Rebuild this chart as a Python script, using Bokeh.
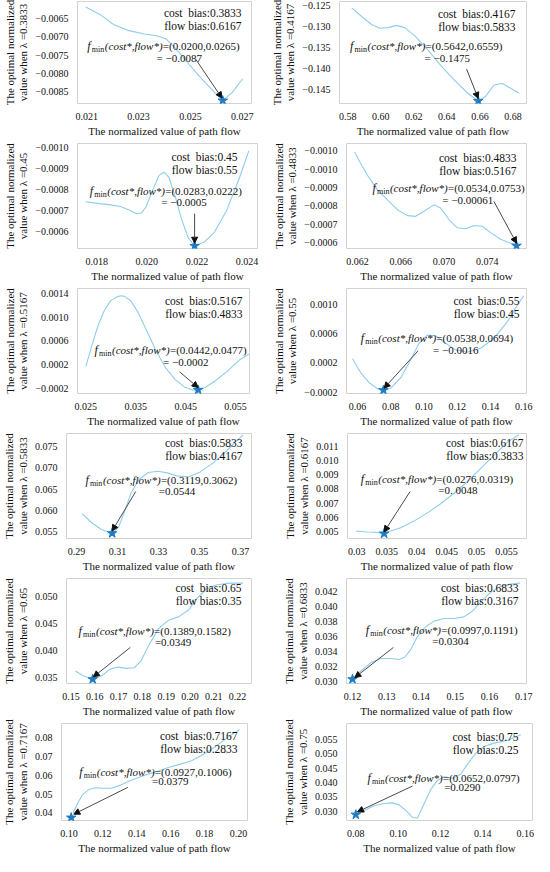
from bokeh.plotting import figure
from bokeh.layouts import row, column
from bokeh.models import Range1d, FixedTicker, Arrow, NormalHead
from bokeh.core.properties import value
from bokeh.embed import file_html
from bokeh.resources import INLINE

# ---------------- data ----------------
LAMBDA = ["0.3833", "0.4167", "0.45", "0.4833", "0.5167", "0.55",
          "0.5833", "0.6167", "0.65", "0.6833", "0.7167", "0.75"]
COST_BIAS = ["0.3833", "0.4167", "0.45", "0.4833", "0.5167", "0.55",
             "0.5833", "0.6167", "0.65", "0.6833", "0.7167", "0.75"]
FLOW_BIAS = ["0.6167", "0.5833", "0.55", "0.5167", "0.4833", "0.45",
             "0.4167", "0.3833", "0.35", "0.3167", "0.2833", "0.25"]
OPT_POINT = ["(0.0200,0.0265)", "(0.5642,0.6559)", "(0.0283,0.0222)", "(0.0534,0.0753)",
             "(0.0442,0.0477)", "(0.0538,0.0694)", "(0.3119,0.3062)", "(0.0276,0.0319)",
             "(0.1389,0.1582)", "(0.0997,0.1191)", "(0.0927,0.1006)", "(0.0652,0.0797)"]
OPT_VALUE = ["= \u22120.0087", "= \u22120.1475", "= \u22120.0005", "= \u22120.00061",
             "= \u22120.0002", "= \u22120.0016", "=0.0544", "=0. 0048",
             "=0.0349", "=0.0304", "=0.0379", "=0.0290"]

X1 = [0.02096, 0.02156, 0.02203, 0.02263, 0.02322, 0.02369, 0.02405, 0.02453, 0.02500, 0.02548, 0.02595, 0.02625, 0.02660, 0.02702]
Y1 = [-0.00618, -0.00641, -0.00666, -0.00683, -0.00692, -0.00697, -0.00705, -0.00740, -0.00780, -0.00819, -0.00854, -0.00875, -0.00854, -0.00815]
X2 = [0.58240, 0.58842, 0.59443, 0.59944, 0.60445, 0.60946, 0.61447, 0.62048, 0.62850, 0.63652, 0.64454, 0.65255, 0.65896, 0.66357, 0.66858, 0.67359, 0.67860, 0.68361]
Y2 = [-0.12550, -0.12757, -0.12948, -0.13039, -0.13023, -0.12970, -0.13023, -0.13214, -0.13557, -0.13939, -0.14282, -0.14588, -0.14778, -0.14664, -0.14397, -0.14359, -0.14473, -0.14588]
X3 = [0.017548, 0.018039, 0.018555, 0.018942, 0.019329, 0.019587, 0.019780, 0.019974, 0.020232, 0.020490, 0.020683, 0.020877, 0.021135, 0.021393, 0.021651, 0.021909, 0.022296, 0.022683, 0.023199, 0.023715, 0.024077]
Y3 = [-0.000743, -0.000735, -0.000728, -0.000720, -0.000701, -0.000686, -0.000689, -0.000720, -0.000798, -0.000868, -0.000883, -0.000860, -0.000767, -0.000658, -0.000572, -0.000533, -0.000552, -0.000595, -0.000704, -0.000860, -0.000984]
X4 = [0.061754, 0.062308, 0.062923, 0.063846, 0.064769, 0.065692, 0.066615, 0.067385, 0.068154, 0.069077, 0.069692, 0.070462, 0.071231, 0.072000, 0.072769, 0.073538, 0.074308, 0.075231, 0.076154, 0.076769]
Y4 = [-0.000993, -0.000943, -0.000893, -0.000829, -0.000786, -0.000743, -0.000717, -0.000714, -0.000736, -0.000764, -0.000750, -0.000700, -0.000664, -0.000660, -0.000674, -0.000671, -0.000643, -0.000614, -0.000597, -0.000589]
X5 = [0.025000, 0.026237, 0.027474, 0.028711, 0.029948, 0.031495, 0.032114, 0.032732, 0.033969, 0.035433, 0.037289, 0.039144, 0.041000, 0.042856, 0.044711, 0.046567, 0.047495, 0.049041, 0.050897, 0.053371, 0.055845, 0.057662]
Y5 = [0.000172, 0.000531, 0.000862, 0.001110, 0.001276, 0.001348, 0.001359, 0.001348, 0.001276, 0.001083, 0.000752, 0.000421, 0.000145, -0.000048, -0.000175, -0.000230, -0.000230, -0.000175, -0.000076, 0.000090, 0.000283, 0.000377]
X6 = [0.057, 0.062, 0.067, 0.072, 0.0756, 0.080, 0.086, 0.092, 0.097, 0.102, 0.107, 0.113, 0.119, 0.126, 0.134, 0.142, 0.150, 0.156, 0.160]
Y6 = [0.000258, 0.000065, -0.000070, -0.000151, -0.000173, -0.000146, -0.000002, 0.000245, 0.000470, 0.000582, 0.000573, 0.000470, 0.000380, 0.000348, 0.000402, 0.000537, 0.000762, 0.000987, 0.001121]
X7 = [0.29276, 0.29737, 0.30198, 0.30735, 0.31042, 0.31349, 0.31656, 0.32040, 0.32501, 0.32962, 0.33423, 0.33960, 0.34497, 0.35035, 0.35572, 0.36186, 0.36724, 0.37138]
Y7 = [0.059225, 0.057054, 0.055504, 0.054574, 0.055891, 0.059767, 0.064031, 0.067287, 0.068915, 0.069225, 0.068837, 0.068062, 0.067907, 0.069070, 0.070853, 0.073333, 0.076047, 0.077829]
X8 = [0.029833, 0.031778, 0.034000, 0.035111, 0.037333, 0.039556, 0.041778, 0.044000, 0.046222, 0.048444, 0.050667, 0.052889, 0.055111, 0.057056]
Y8 = [0.005010, 0.004940, 0.004893, 0.004940, 0.005243, 0.005711, 0.006295, 0.006949, 0.007696, 0.008514, 0.009448, 0.010383, 0.011317, 0.011854]
X9 = [0.15179, 0.15524, 0.15931, 0.16282, 0.16626, 0.16971, 0.17315, 0.17660, 0.17935, 0.18280, 0.18693, 0.19106, 0.19520, 0.19933, 0.20278, 0.20691, 0.21104, 0.21518, 0.21931, 0.22235]
Y9 = [0.036190, 0.035283, 0.034678, 0.035283, 0.036492, 0.036916, 0.036674, 0.036795, 0.038004, 0.041028, 0.044052, 0.045564, 0.046169, 0.047378, 0.049495, 0.051310, 0.052036, 0.052338, 0.052399, 0.052399]
X10 = [0.12029, 0.12243, 0.12534, 0.12825, 0.13117, 0.13359, 0.13524, 0.13699, 0.13893, 0.14136, 0.14379, 0.14670, 0.14961, 0.15252, 0.15495, 0.15738, 0.16029, 0.16320, 0.16612, 0.16884]
Y10 = [0.030530, 0.031405, 0.032499, 0.033068, 0.033068, 0.032937, 0.033243, 0.034250, 0.036000, 0.037313, 0.038057, 0.038407, 0.038407, 0.038626, 0.039370, 0.040595, 0.041908, 0.042695, 0.043002, 0.043133]
X11 = [0.10248, 0.10515, 0.10802, 0.11183, 0.11565, 0.12042, 0.12519, 0.12996, 0.13569, 0.14141, 0.14714, 0.15286, 0.15859, 0.16527, 0.17195, 0.17767, 0.18340, 0.18912, 0.19485, 0.20057]
Y11 = [0.040000, 0.045077, 0.049692, 0.052462, 0.053385, 0.053077, 0.053077, 0.054615, 0.056923, 0.058923, 0.060769, 0.062308, 0.064154, 0.065846, 0.067692, 0.070308, 0.073385, 0.077231, 0.081077, 0.084308]
X12 = [0.080787, 0.083937, 0.088661, 0.093386, 0.097323, 0.10047, 0.10362, 0.10677, 0.10913, 0.11228, 0.11543, 0.11858, 0.12173, 0.12567, 0.12961, 0.13276, 0.13669, 0.14063, 0.14535, 0.15165, 0.15795]
Y12 = [0.029316, 0.030293, 0.031953, 0.032734, 0.032930, 0.032246, 0.030293, 0.027852, 0.027656, 0.032734, 0.037617, 0.040742, 0.042000, 0.041523, 0.042989, 0.046406, 0.050313, 0.052559, 0.053731, 0.054707, 0.056660]

MIN_FLOW = [0.02625, 0.65896, 0.021909, 0.076708, 0.047495, 0.0756, 0.30735, 0.034556, 0.15909, 0.12000, 0.10134, 0.08000]
MIN_VALUE = [-0.00875, -0.14778, -0.000533, -0.000586, -0.000225, -0.000173, 0.054574, 0.004823, 0.034678, 0.030311, 0.037385, 0.028828]

XT1 = ["0.021", "0.023", "0.025", "0.027"]
YT1 = ["\u22120.0065", "\u22120.0070", "\u22120.0075", "\u22120.0080", "\u22120.0085"]
XT2 = ["0.58", "0.60", "0.62", "0.64", "0.66", "0.68"]
YT2 = ["\u22120.125", "\u22120.130", "\u22120.135", "\u22120.140", "\u22120.145"]
XT3 = ["0.018", "0.020", "0.022", "0.024"]
YT3 = ["\u22120.0010", "\u22120.0009", "\u22120.0008", "\u22120.0007", "\u22120.0006"]
XT4 = ["0.062", "0.066", "0.070", "0.074"]
YT4 = ["\u22120.0010", "\u22120.0010", "\u22120.0009", "\u22120.0008", "\u22120.0007", "\u22120.0006"]
YT4_AT = [-0.00100, -0.00092, -0.00084, -0.00076, -0.00068, -0.00060]
XT5 = ["0.025", "0.035", "0.045", "0.055"]
YT5 = ["0.0014", "0.0010", "0.0006", "0.0002", "\u22120.0002"]
XT6 = ["0.06", "0.08", "0.10", "0.12", "0.14", "0.16"]
YT6 = ["0.0010", "0.0006", "0.0002", "\u22120.0002"]
XT7 = ["0.29", "0.31", "0.33", "0.35", "0.37"]
YT7 = ["0.055", "0.060", "0.065", "0.070", "0.075"]
XT8 = ["0.03", "0.035", "0.04", "0.045", "0.05", "0.055"]
YT8 = ["0.005", "0.006", "0.007", "0.008", "0.009", "0.010", "0.011"]
XT9 = ["0.15", "0.16", "0.17", "0.18", "0.19", "0.20", "0.21", "0.22"]
YT9 = ["0.035", "0.040", "0.045", "0.050"]
XT10 = ["0.12", "0.13", "0.14", "0.15", "0.16", "0.17"]
YT10 = ["0.030", "0.032", "0.034", "0.036", "0.038", "0.040", "0.042"]
XT11 = ["0.10", "0.12", "0.14", "0.16", "0.18", "0.20"]
YT11 = ["0.04", "0.05", "0.06", "0.07", "0.08"]
XT12 = ["0.08", "0.10", "0.12", "0.14", "0.16"]
YT12 = ["0.030", "0.035", "0.040", "0.045", "0.050", "0.055"]

# ---------------- layout (positions / sizes / styles) ----------------
FONT = "Liberation Serif"
LINE_COLOR = "#8fcdea"
STAR_COLOR = "#1f7cc4"
TXT = "#111111"

X_RANGE = [(0.02064, 0.02736), (0.57499, 0.68822), (0.017226, 0.024424), (0.060985, 0.077631),
           (0.023330, 0.057786), (0.0534, 0.1616), (0.285086, 0.375374), (0.028444, 0.058333),
           (0.14807, 0.22593), (0.11825, 0.17078), (0.095611, 0.20534), (0.075591, 0.16346)]
# (bottom, top) -- panels 3 and 4 use a reversed axis
Y_RANGE = [(-0.00883, -0.00603), (-0.14839, -0.12398), (-0.000521, -0.001019), (-0.000574, -0.001031),
           (-0.0002855, 0.00148), (-0.000218, 0.00122), (0.053333, 0.078140), (0.004473, 0.011948),
           (0.033892, 0.053245), (0.029742, 0.043746), (0.035846, 0.087693), (0.0268, 0.060567)]
# text baselines in data coordinates
TEXT1_AT = [(0.02102, -0.00736), (0.58140, -0.13557), (0.017716, -0.000779), (0.063385, -0.000821),
            (0.026732, 0.000377), (0.062, 0.000492), (0.29430, 0.066357), (0.030667, 0.008444),
            (0.15317, 0.042843), (0.12388, 0.036438), (0.10611, 0.06), (0.085512, 0.040352)]
TEXT2_AT = [(0.02369, -0.00769), (0.62649, -0.13847), (0.020580, -0.000723), (0.069846, -0.000771),
            (0.040464, 0.000189), (0.1054, 0.000335), (0.33008, 0.063798), (0.043611, 0.007696),
            (0.18528, 0.040907), (0.14330, 0.034994), (0.14905, 0.054923), (0.12173, 0.037129)]
ARROW_FROM = [(0.02521, -0.00762), (0.65194, -0.14015), (0.021909, -0.000686), (0.074615, -0.000779),
              (0.043782, 0.0000786), (0.0964, 0.000366), (0.31887, 0.064419), (0.038889, 0.007813),
              (0.17494, 0.040544), (0.13194, 0.034556), (0.13473, 0.053538), (0.10677, 0.038789)]
ARROW_TO = [(0.02622, -0.00868), (0.65896, -0.14717), (0.021909, -0.000546), (0.076708, -0.000597),
            (0.047495, -0.000186), (0.076, -0.000146), (0.30735, 0.055116), (0.034556, 0.004940),
            (0.15937, 0.035101), (0.12068, 0.030530), (0.10286, 0.039231), (0.080787, 0.029805)]
# (distance of text right edge from frame right, centre of first line below frame top)
BIAS_OFF = [(10, 11), (11, 12), (20, 13), (10, 14), (7, 12), (7, 12),
            (9, 9), (3, 9), (10, 9), (8, 9), (10, 12), (14, 13)]
LEFT_BORDER = [63, 71, 71, 79, 63, 79, 55, 80, 63, 79, 55, 79]
RIGHT_BORDER = [16, 8, 10, 8, 18, 8, 16, 8, 16, 8, 20, 2]
ROW_H = [139, 145, 145, 145, 145, 137]
ROW_TOP = [1, 4, 4, 4, 4, 4]
ROW_BOTTOM = [34, 34, 34, 34, 34, 30]
BIAS_SIZE = "11.5px"
MID = -3.6   # shift from baseline to middle of the text, px (negative = up)

XS = [X1, X2, X3, X4, X5, X6, X7, X8, X9, X10, X11, X12]
YS = [Y1, Y2, Y3, Y4, Y5, Y6, Y7, Y8, Y9, Y10, Y11, Y12]
XTL = [XT1, XT2, XT3, XT4, XT5, XT6, XT7, XT8, XT9, XT10, XT11, XT12]
YTL = [YT1, YT2, YT3, YT4, YT5, YT6, YT7, YT8, YT9, YT10, YT11, YT12]


def num(s):
    return float(s.replace("\u2212", "-"))


def make_panel(i):
    r = i // 2
    p = figure(width=267, height=ROW_H[r],
               x_range=Range1d(*X_RANGE[i]), y_range=Range1d(*Y_RANGE[i]),
               output_backend="svg", toolbar_location=None,
               min_border_left=LEFT_BORDER[i], min_border_right=RIGHT_BORDER[i],
               min_border_top=ROW_TOP[r], min_border_bottom=ROW_BOTTOM[r])
    p.background_fill_color = "white"
    p.border_fill_color = "white"
    p.outline_line_color = "#d2d2d2"
    p.xgrid.visible = False
    p.ygrid.visible = False

    p.line(XS[i], YS[i], line_color=LINE_COLOR, line_width=1.1)
    p.scatter([MIN_FLOW[i]], [MIN_VALUE[i]], marker="star", size=10,
              fill_color=STAR_COLOR, line_color=STAR_COLOR)
    p.add_layout(Arrow(end=NormalHead(size=6, fill_color="#111111", line_color="#111111"),
                       x_start=ARROW_FROM[i][0], y_start=ARROW_FROM[i][1],
                       x_end=ARROW_TO[i][0], y_end=ARROW_TO[i][1],
                       line_color="#4a4a4a", line_width=1))

    # ticks
    xt = [num(s) for s in XTL[i]]
    yt = YT4_AT if i == 3 else [num(s) for s in YTL[i]]
    p.xaxis.ticker = FixedTicker(ticks=xt)
    p.yaxis.ticker = FixedTicker(ticks=yt)
    p.xaxis.major_label_overrides = {v: s for v, s in zip(xt, XTL[i])}
    p.yaxis.major_label_overrides = {v: s for v, s in zip(yt, YTL[i])}
    for ax in (p.xaxis[0], p.yaxis[0]):
        ax.axis_line_color = None
        ax.major_tick_line_color = None
        ax.minor_tick_line_color = None
        ax.major_label_text_font = FONT
        ax.major_label_text_font_size = "10px"
        ax.major_label_text_color = TXT
        ax.major_label_standoff = 3
        ax.axis_label_text_font = FONT
        ax.axis_label_text_font_size = "11px"
        ax.axis_label_text_font_style = "normal"
        ax.axis_label_text_color = TXT
    p.xaxis.axis_label = "The normalized value of path flow"
    p.xaxis.axis_label_standoff = 2
    p.yaxis.axis_label = "The optimal normalized\nvalue when \u03bb =" + LAMBDA[i]
    p.yaxis.axis_label_standoff = 3
    p.yaxis.axis_label_text_line_height = 1.15

    # bias text (top right of frame)
    x1 = X_RANGE[i][1]
    ytop = Y_RANGE[i][1]
    bx, by = BIAS_OFF[i]
    common = dict(text_font=value(FONT), text_color=TXT)
    p.text(x=[x1], y=[ytop], text=["cost\u00a0 bias:" + COST_BIAS[i]], x_offset=-bx, y_offset=by,
           text_font_size=BIAS_SIZE, text_baseline="middle", text_align="right", **common)
    p.text(x=[x1], y=[ytop], text=["flow bias:" + FLOW_BIAS[i]], x_offset=-bx, y_offset=by + 13.5,
           text_font_size=BIAS_SIZE, text_baseline="middle", text_align="right", **common)

    # f_min annotation
    tx, ty = TEXT1_AT[i]
    base = dict(text_baseline="middle", text_align="left", **common)
    p.text(x=[tx], y=[ty], text=["f"], text_font_size="12px", text_font_style="italic",
           y_offset=MID, **base)
    p.text(x=[tx], y=[ty], text=["min"], text_font_size="8px",
           x_offset=4.5, y_offset=MID + 3.5, **base)
    p.text(x=[tx], y=[ty], text=["(cost*,flow*)"], text_font_size="11px",
           text_font_style="italic", x_offset=17.5, y_offset=MID, **base)
    p.text(x=[tx], y=[ty], text=["=" + OPT_POINT[i]], text_font_size="11px",
           x_offset=75.5, y_offset=MID, **base)
    t2x, t2y = TEXT2_AT[i]
    p.text(x=[t2x], y=[t2y], text=[OPT_VALUE[i]], text_font_size="11px", y_offset=MID, **base)
    return p


panels = [make_panel(i) for i in range(12)]
layout = column([row(panels[2 * k], panels[2 * k + 1]) for k in range(6)])

open("out.html", "w").write(file_html(layout, INLINE))
